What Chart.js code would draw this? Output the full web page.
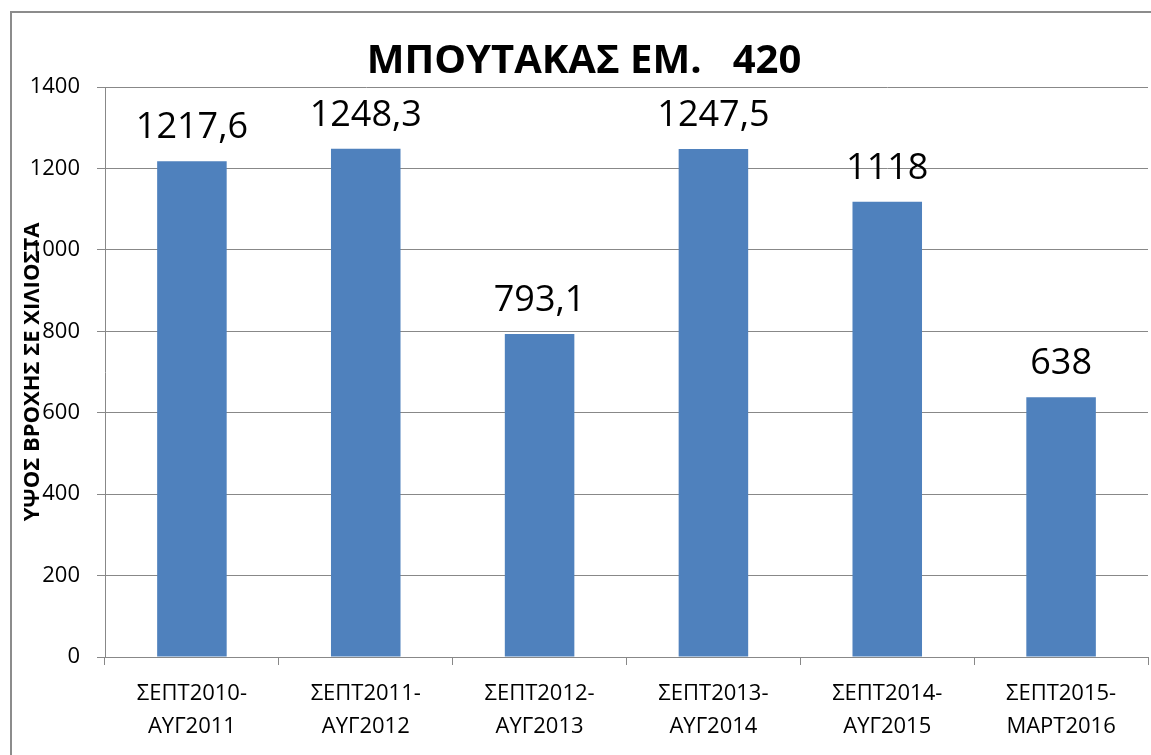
<!DOCTYPE html>
<html>
<head>
<meta charset="utf-8">
<title>ΜΠΟΥΤΑΚΑΣ ΕΜ. 420</title>
<script src="https://cdn.jsdelivr.net/npm/chart.js"></script>
<style>
  html, body { margin: 0; padding: 0; background: #fff; overflow: hidden; }
  #frame { position: absolute; left: 10px; top: 11px; width: 1200px; height: 800px; border: 2px solid #8c8c8c; }
  #wrap { position: absolute; left: 0; top: 0; width: 1151px; height: 755px; }
</style>
</head>
<body>
<div id="frame"></div>
<div id="wrap"><canvas id="myChart"></canvas></div>
<script>
// data
const periods = ['ΣΕΠΤ2010-ΑΥΓ2011', 'ΣΕΠΤ2011-ΑΥΓ2012', 'ΣΕΠΤ2012-ΑΥΓ2013',
                 'ΣΕΠΤ2013-ΑΥΓ2014', 'ΣΕΠΤ2014-ΑΥΓ2015', 'ΣΕΠΤ2015-ΜΑΡΤ2016'];
const rainfall = [1217.6, 1248.3, 793.1, 1247.5, 1118, 638];
const yMin = 0;
const yMax = 1400;
const yStep = 200;

// two line labels, split after the dash
const labels = periods.map(function(p) {
    var i = p.indexOf('-');
    return [p.slice(0, i + 1), p.slice(i + 1)];
});

// value written above every bar, with a decimal comma
const barLabels = {
    id: 'barLabels',
    afterDatasetsDraw: function(chart) {
        var ctx = chart.ctx;
        var meta = chart.getDatasetMeta(0);
        ctx.save();
        ctx.font = '36px "Open Sans"';
        ctx.fillStyle = '#000';
        ctx.textAlign = 'center';
        ctx.textBaseline = 'alphabetic';
        meta.data.forEach(function(bar, i) {
            ctx.fillText(String(rainfall[i]).replace('.', ','), bar.x, bar.y - 23);
        });
        ctx.restore();
    }
};

const config = {
    type: 'bar',
    data: {
        labels: labels,
        datasets: [{
            label: 'ΥΨΟΣ ΒΡΟΧΗΣ',
            data: rainfall,
            backgroundColor: '#4F81BD',
            barPercentage: 0.4,
            categoryPercentage: 1.0
        }]
    },
    options: {
        responsive: true,
        maintainAspectRatio: false,
        animation: false,
        layout: {
            padding: { left: 20, right: 3, top: 0, bottom: 0 }
        },
        plugins: {
            legend: { display: false },
            tooltip: { enabled: false },
            title: {
                display: true,
                text: 'ΜΠΟΥΤΑΚΑΣ ΕΜ.   420',
                color: '#000',
                font: { family: 'Open Sans', size: 40, weight: 'bold', lineHeight: 1.2 },
                padding: { top: 38, bottom: 1 }
            }
        },
        scales: {
            x: {
                grid: { display: true, drawOnChartArea: false, tickLength: 8, color: '#888' },
                border: { color: '#888' },
                ticks: {
                    color: '#000',
                    padding: 12,
                    maxRotation: 0,
                    autoSkip: false,
                    font: { family: 'Open Sans', size: 22, lineHeight: 1.5 }
                },
                afterFit: function(scale) { scale.height = 98; }
            },
            y: {
                min: yMin,
                max: yMax,
                grid: { color: '#888', tickLength: 8 },
                border: { color: '#888' },
                ticks: {
                    stepSize: yStep,
                    color: '#000',
                    padding: 17,
                    font: { family: 'Open Sans', size: 22 },
                    callback: function(value) { return String(value); }
                },
                title: {
                    display: true,
                    text: 'ΥΨΟΣ ΒΡΟΧΗΣ ΣΕ ΧΙΛΙΟΣΤΑ',
                    color: '#000',
                    font: { family: 'Open Sans', size: 22, weight: 'bold', lineHeight: 1.2 },
                    padding: { top: 0, bottom: 0 }
                },
                afterFit: function(scale) { scale.width = 85; }
            }
        }
    },
    plugins: [barLabels]
};

var myChart = new Chart(document.getElementById('myChart'), config);
</script>
</body>
</html>
